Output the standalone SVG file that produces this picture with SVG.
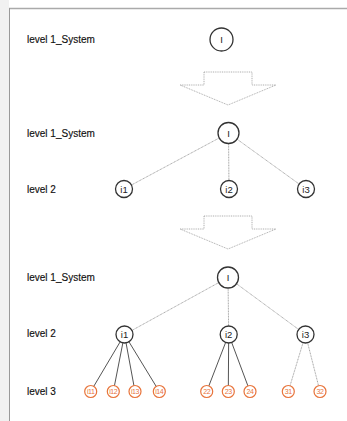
<svg xmlns="http://www.w3.org/2000/svg" width="347" height="421" viewBox="0 0 347 421">
<style>
.lbl{font-family:"Liberation Sans",Arial,sans-serif;font-size:10px;fill:#111;stroke:#111;stroke-width:0.15;}
.n circle{fill:#fff;stroke:#333;stroke-width:1.3;}
.n text{font-family:"Liberation Sans",Arial,sans-serif;font-size:9.5px;fill:#222;text-anchor:middle;dominant-baseline:central;}
.o circle{fill:#fff;stroke:#e8743b;stroke-width:1.2;}
.o text{font-family:"Liberation Sans",Arial,sans-serif;font-size:7px;letter-spacing:-0.4px;fill:#e8743b;text-anchor:middle;dominant-baseline:central;}
.arrow{fill:#fff;stroke:#999;stroke-width:0.8;stroke-dasharray:1 0.8;}
.lt{stroke:#999;stroke-width:0.9;stroke-dasharray:1 0.6;fill:none;}
.dk{stroke:#555;stroke-width:1;fill:none;}
</style>
<rect x="0" y="0" width="347" height="421" fill="#fff"/>
<rect x="0" y="0" width="9" height="421" fill="#f1f1f1"/>
<line x1="9" y1="8.5" x2="347" y2="8.5" stroke="#aaa" stroke-width="1.5"/>
<line x1="9.5" y1="8" x2="9.5" y2="421" stroke="#999" stroke-width="1"/>

<g id="labels">
<text class="lbl" x="27" y="43">level 1_System</text>
<text class="lbl" x="27" y="136.5">level 1_System</text>
<text class="lbl" x="27" y="192.5">level 2</text>
<text class="lbl" x="27" y="281">level 1_System</text>
<text class="lbl" x="27" y="336.5">level 2</text>
<text class="lbl" x="27" y="394.5">level 3</text>
</g>

<g id="arrows">
<polygon class="arrow" points="204,72 252,72 252,85 276,85 228,105 180,85 204,85"/>
<polygon class="arrow" points="204,216 252,216 252,229 276,229 228,249 180,229 204,229"/>
</g>

<g id="connectors">
<line class="lt" x1="228.5" y1="133" x2="124" y2="189"/>
<line class="lt" x1="228.5" y1="133" x2="229" y2="189"/>
<line class="lt" x1="228.5" y1="133" x2="306" y2="189"/>
<line class="lt" x1="228" y1="277.5" x2="124.5" y2="334.5"/>
<line class="lt" x1="228" y1="277.5" x2="228.7" y2="334.5"/>
<line class="lt" x1="228" y1="277.5" x2="305.5" y2="334.5"/>
<line class="dk" x1="124.5" y1="334.5" x2="90.7" y2="391.5"/>
<line class="dk" x1="124.5" y1="334.5" x2="113.3" y2="391.5"/>
<line class="dk" x1="124.5" y1="334.5" x2="135" y2="391.5"/>
<line class="dk" x1="124.5" y1="334.5" x2="159.3" y2="391.5"/>
<line class="dk" x1="228.7" y1="334.5" x2="206.7" y2="391.5"/>
<line class="dk" x1="228.7" y1="334.5" x2="228.3" y2="391.5"/>
<line class="dk" x1="228.7" y1="334.5" x2="250" y2="391.5"/>
<line class="lt" x1="305.5" y1="334.5" x2="288.3" y2="391.5"/>
<line class="lt" x1="305.5" y1="334.5" x2="320" y2="391.5"/>
</g>

<g id="node-I-a" class="n"><circle cx="221.5" cy="39.5" r="11.5"/><text x="221.5" y="39.5">I</text></g>
<g id="node-I-b" class="n"><circle cx="228.5" cy="133" r="10.5"/><text x="228.5" y="133">I</text></g>
<g id="node-i1-b" class="n"><circle cx="124" cy="189" r="8.5"/><text x="124" y="189">i1</text></g>
<g id="node-i2-b" class="n"><circle cx="229" cy="189" r="8.5"/><text x="229" y="189">i2</text></g>
<g id="node-i3-b" class="n"><circle cx="306" cy="189" r="8.5"/><text x="306" y="189">i3</text></g>
<g id="node-I-c" class="n"><circle cx="228" cy="277.5" r="10.5"/><text x="228" y="277.5">I</text></g>
<g id="node-i1-c" class="n"><circle cx="124.5" cy="334.5" r="8.5"/><text x="124.5" y="334.5">i1</text></g>
<g id="node-i2-c" class="n"><circle cx="228.7" cy="334.5" r="8.5"/><text x="228.7" y="334.5">i2</text></g>
<g id="node-i3-c" class="n"><circle cx="305.5" cy="334.5" r="8.5"/><text x="305.5" y="334.5">i3</text></g>
<g id="node-i11" class="o"><circle cx="90.7" cy="391.5" r="6"/><text x="90.7" y="391.5">i11</text></g>
<g id="node-i12" class="o"><circle cx="113.3" cy="391.5" r="6"/><text x="113.3" y="391.5">i12</text></g>
<g id="node-i13" class="o"><circle cx="135" cy="391.5" r="6"/><text x="135" y="391.5">i13</text></g>
<g id="node-i14" class="o"><circle cx="159.3" cy="391.5" r="6"/><text x="159.3" y="391.5">i14</text></g>
<g id="node-22" class="o"><circle cx="206.7" cy="391.5" r="6"/><text x="206.7" y="391.5">22</text></g>
<g id="node-23" class="o"><circle cx="228.3" cy="391.5" r="6"/><text x="228.3" y="391.5">23</text></g>
<g id="node-24" class="o"><circle cx="250" cy="391.5" r="6"/><text x="250" y="391.5">24</text></g>
<g id="node-31" class="o"><circle cx="288.3" cy="391.5" r="6"/><text x="288.3" y="391.5">31</text></g>
<g id="node-32" class="o"><circle cx="320" cy="391.5" r="6"/><text x="320" y="391.5">32</text></g>
</svg>
